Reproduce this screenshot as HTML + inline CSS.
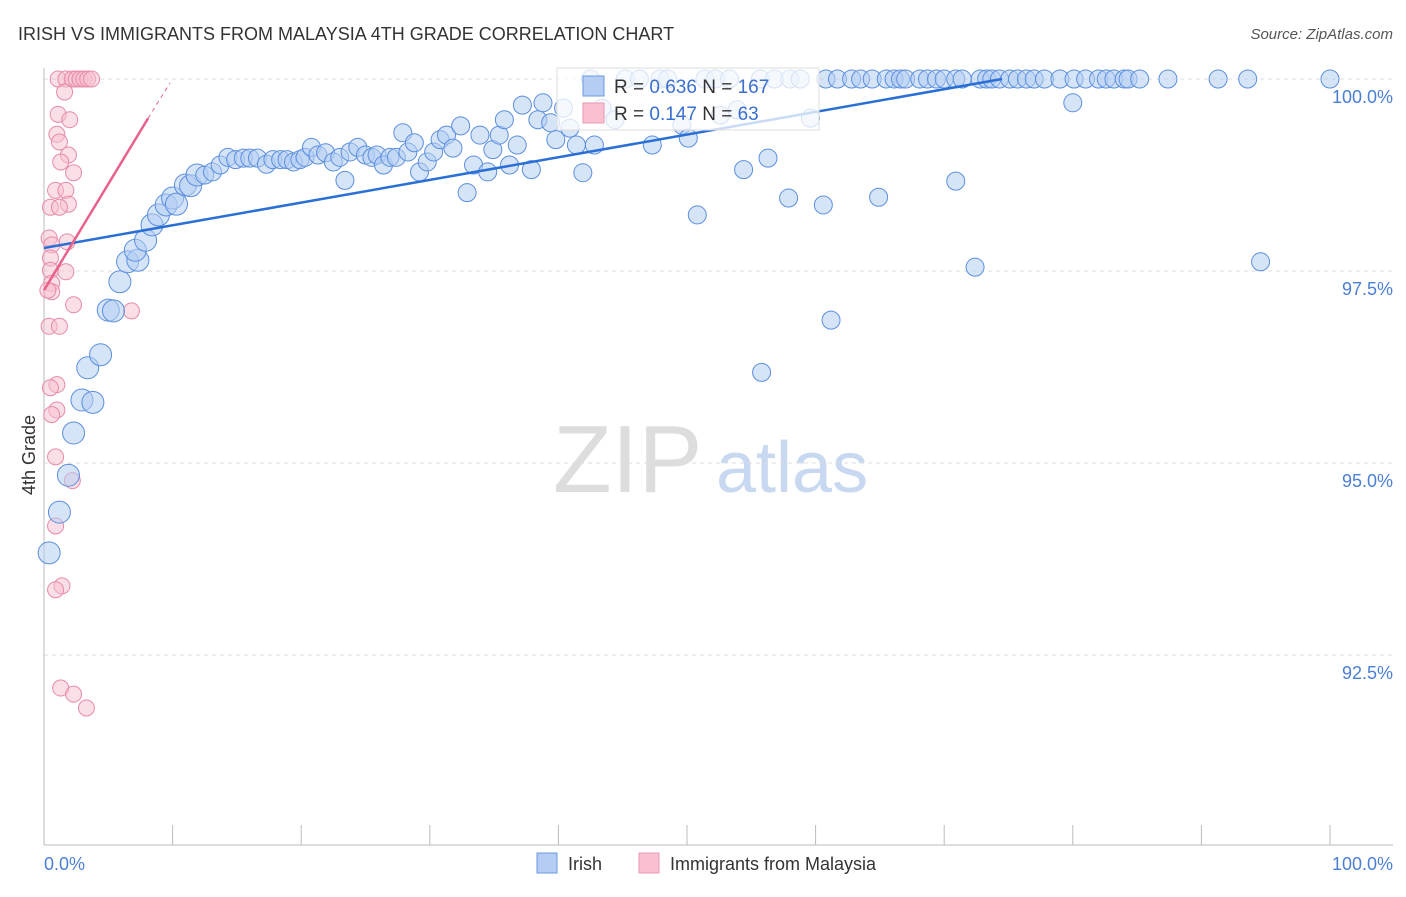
<!DOCTYPE html>
<html><head><meta charset="utf-8"><style>
body{margin:0;background:#fff;font-family:"Liberation Sans",sans-serif}
svg text{font-family:"Liberation Sans",sans-serif}
</style></head><body>
<svg width="1406" height="892" viewBox="0 0 1406 892" xmlns="http://www.w3.org/2000/svg">
<text x="18" y="40" font-size="18" fill="#333">IRISH VS IMMIGRANTS FROM MALAYSIA 4TH GRADE CORRELATION CHART</text>
<text x="1393" y="39" font-size="15" fill="#555" font-style="italic" text-anchor="end">Source: ZipAtlas.com</text>
<g>
<text x="553" y="492" font-size="96" fill="#ddd" font-family="Liberation Serif">ZIP</text>
<text x="716" y="492" font-size="72" fill="#c8d8f0">atlas</text>
</g>
<g id="grid"></g>
<g id="axes"></g>
<g id="pink"></g>
<g id="blue"></g>
<g id="lines"></g>
<text x="35" y="455" font-size="18" fill="#333" text-anchor="middle" transform="rotate(-90 35 455)">4th Grade</text>
<g>
<rect x="557" y="68" width="262" height="62" fill="#fff" fill-opacity="0.75" stroke="#ddd"/>
<rect x="583" y="76" width="21" height="20" fill="#b5cdf2" stroke="#6b9ae0"/>
<rect x="583" y="103" width="21" height="20" fill="#f8c0d0" stroke="#e898b0"/>
<text x="614" y="93" font-size="19" fill="#333">R = <tspan fill="#3a6fd0">0.636</tspan>   N = <tspan fill="#3a6fd0">167</tspan></text>
<text x="614" y="120" font-size="19" fill="#333">R =  <tspan fill="#3a6fd0">0.147</tspan>   N =   <tspan fill="#3a6fd0">63</tspan></text>
</g>
<g>
<rect x="537" y="853" width="20" height="20" fill="#b5cdf2" stroke="#6b9ae0"/>
<text x="568" y="870" font-size="18" fill="#333">Irish</text>
<rect x="639" y="853" width="20" height="20" fill="#f8c0d0" stroke="#e898b0"/>
<text x="670" y="870" font-size="18" fill="#333">Immigrants from Malaysia</text>
</g>
</svg>
<script>
const yTicks=[100,97.5,95,92.5];
const yTickLabels=["100.0%","97.5%","95.0%","92.5%"];
const irishX=[0.4,1.2,1.9,2.3,2.95,3.8,3.4,4.4,5.0,5.4,5.9,6.5,7.3,7.1,7.9,8.4,8.9,9.5,10,10.3,11,11.4,11.9,12.5,13.1,13.7,14.3,14.9,15.5,16,16.6,17.3,17.8,18.4,18.9,19.4,19.9,20.3,20.8,21.3,21.9,22.5,23,23.4,23.8,24.4,25,25.5,25.9,26.4,26.9,27.4,27.9,28.3,28.8,29.2,29.8,30.3,30.8,31.3,31.8,32.4,32.9,33.4,33.9,34.5,34.9,35.4,35.8,36.2,36.8,37.2,37.9,38.4,38.8,39.4,39.8,40.4,40.9,41.4,41.9,42.5,42.8,43.4,44.4,45.2,46.3,47.3,47.9,48.5,49.6,50.1,50.8,51.4,52.2,52.6,53.3,53.9,54.4,55.7,56.3,56.8,58.0,57.9,58.8,59.6,60.6,61.2,55.8,64.9,70.9,72.4,80,94.6,60.8,61.7,62.8,63.5,64.4,65.5,66.1,66.6,67.0,68.1,68.7,69.4,70.0,70.9,71.4,72.8,73.3,73.7,74.3,75.1,75.7,76.4,77.0,77.8,79.0,80.1,81.0,82.0,82.6,83.2,84.0,84.3,85.2,87.4,91.3,93.6,100];
const irishY=[93.83,94.36,94.84,95.39,95.82,95.79,96.24,96.41,96.99,96.98,97.36,97.62,97.64,97.77,97.90,98.10,98.23,98.36,98.45,98.37,98.62,98.61,98.75,98.75,98.79,98.88,98.98,98.95,98.97,98.97,98.97,98.89,98.95,98.95,98.95,98.92,98.95,98.98,99.11,99.01,99.04,98.92,98.98,98.68,99.05,99.11,99.01,98.98,99.01,98.88,98.98,98.98,99.3,99.05,99.17,98.79,98.92,99.05,99.21,99.27,99.1,99.39,98.52,98.88,99.27,98.79,99.08,99.27,99.47,98.88,99.14,99.66,98.82,99.47,99.69,99.43,99.21,99.62,99.36,99.14,98.78,100,99.14,99.62,99.47,100,100,99.14,100,100,99.4,99.23,98.23,100,100,99.53,100,99.6,98.82,100,98.97,100,100,98.45,100,99.49,98.36,96.86,96.18,98.46,98.67,97.55,99.69,97.62,100,100,100,100,100,100,100,100,100,100,100,100,100,100,100,100,100,100,100,100,100,100,100,100,100,100,100,100,100,100,100,100,100,100,100,100,100];
const malX=[1.1,1.7,2.2,2.5,2.8,3.1,3.4,3.7,1.6,1.1,2,1,1.2,1.9,1.3,2.3,0.9,1.7,1.9,0.5,1.2,0.4,0.6,1.8,0.5,0.5,1.7,0.6,0.6,0.3,2.3,6.8,0.4,1.2,1,0.5,1,0.6,0.9,2.2,0.9,1.4,0.9,1.3,2.3,3.3];
const malY=[100,100,100,100,100,100,100,100,99.83,99.54,99.47,99.28,99.18,99.01,98.92,98.78,98.55,98.55,98.37,98.33,98.33,97.93,97.84,97.88,97.67,97.51,97.49,97.34,97.23,97.25,97.06,96.98,96.78,96.78,96.02,95.98,95.69,95.63,95.08,94.77,94.18,93.4,93.35,92.07,91.99,91.81];
const irishTrend=[[0,97.8],[74.5,100]];
const malTrend=[[0,97.25],[8.1,99.49]];
const malTrendExt=[[8.1,99.49],[9.8,99.95]];
const NS="http://www.w3.org/2000/svg";
const sx=v=>44+v*12.86, sy=v=>79+(100-v)*76.8;
function mk(p,tag,at){const e=document.createElementNS(NS,tag);for(const k in at)e.setAttribute(k,at[k]);p.appendChild(e);return e;}
const grid=document.getElementById('grid'),axes=document.getElementById('axes');
yTicks.forEach((t,i)=>{
 const l=mk(grid,'line',{x1:44,x2:1393,y1:sy(t),y2:sy(t),stroke:'#ddd','stroke-dasharray':'4,4'});
 
 
 const tx=mk(axes,'text',{x:1393,y:sy(t)+24,'font-size':18,fill:'#4a7fd4','text-anchor':'end'});
 tx.textContent=yTickLabels[i];
 
 
});
let a=mk(axes,'line',{x1:44,x2:44,y1:68,y2:845,stroke:'#bbb'});


a=mk(axes,'line',{x1:44,x2:1393,y1:845,y2:845,stroke:'#bbb'});


for(let i=0;i<=10;i++){const t=mk(axes,'line',{x1:sx(i*10),x2:sx(i*10),y1:825,y2:845,stroke:'#bbb'});
 
 }
let xl=mk(axes,'text',{x:44,y:870,'font-size':18,fill:'#4a7fd4'});xl.textContent='0.0%';


xl=mk(axes,'text',{x:1393,y:870,'font-size':18,fill:'#4a7fd4','text-anchor':'end'});xl.textContent='100.0%';


const pg=document.getElementById('pink');
malX.forEach((x,i)=>{const c=mk(pg,'circle',{cx:sx(x),cy:sy(malY[i]),r:8,fill:'#f8c0d0','fill-opacity':0.5,stroke:'#e88aa8','stroke-width':1});
 
 });
const bg=document.getElementById('blue');
irishX.forEach((x,i)=>{const c=mk(bg,'circle',{cx:sx(x),cy:sy(irishY[i]),r:x<12?11:9,fill:'#b5cdf2','fill-opacity':0.55,stroke:'#5b8fe0','stroke-width':1});
 
 });
const lg=document.getElementById('lines');
let tl=mk(lg,'line',{x1:sx(irishTrend[0][0]),y1:sy(irishTrend[0][1]),x2:sx(irishTrend[1][0]),y2:sy(irishTrend[1][1]),stroke:'#2a6fd6','stroke-width':2.5});


tl=mk(lg,'line',{x1:sx(malTrend[0][0]),y1:sy(malTrend[0][1]),x2:sx(malTrend[1][0]),y2:sy(malTrend[1][1]),stroke:'#e8628a','stroke-width':2.5});


tl=mk(lg,'line',{x1:sx(malTrendExt[0][0]),y1:sy(malTrendExt[0][1]),x2:sx(malTrendExt[1][0]),y2:sy(malTrendExt[1][1]),stroke:'#e8628a','stroke-width':1,'stroke-dasharray':'4,4'});


</script>
</body></html>
